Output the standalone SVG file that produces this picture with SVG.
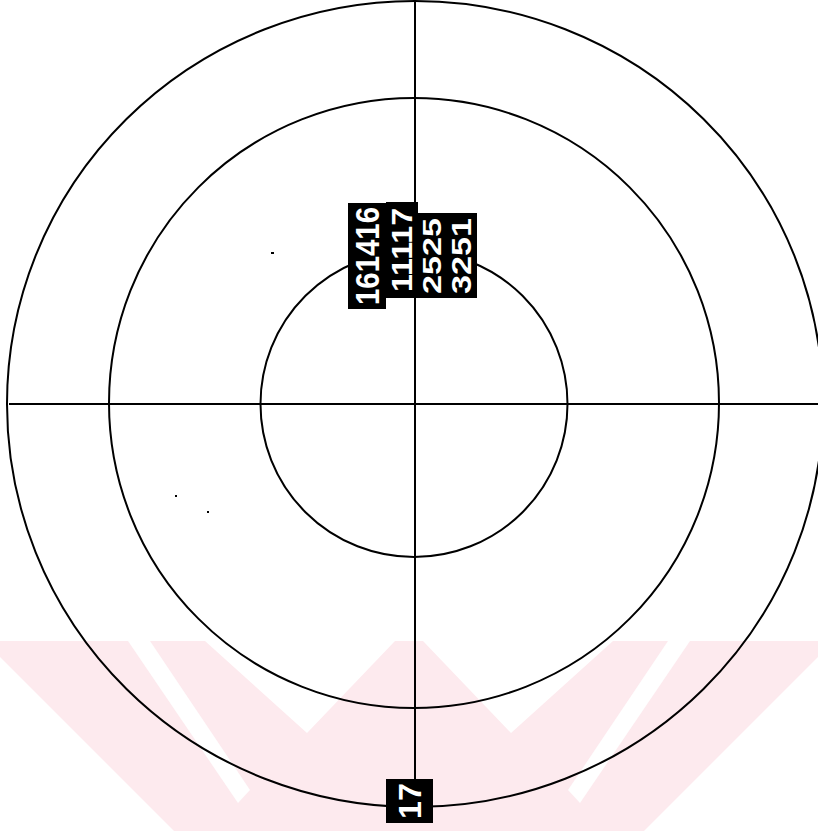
<svg xmlns="http://www.w3.org/2000/svg" width="818" height="831" viewBox="0 0 818 831">
<style>
.ring{fill:none;stroke:#000;stroke-width:2}
.axis{stroke:#000;stroke-width:2}
.box{fill:#000}
.lbl{fill:#fff;font-family:"Liberation Sans",Arial,sans-serif;font-weight:bold;text-anchor:middle;dominant-baseline:central}
.wm{fill:#fdeaee}
.gap{fill:#fff}
</style>
<rect width="818" height="831" fill="#fff"/>
<g id="watermark">
<rect class="wm" x="0" y="641" width="818" height="190"/>
<polygon class="gap" points="0,657 0,831 174,831"/>
<polygon class="gap" points="128,641 150,641 250,790 238,803"/>
<polygon class="gap" points="205,641 395,641 307,733"/>
<polygon class="gap" points="818,657 818,831 644,831"/>
<polygon class="gap" points="690,641 668,641 568,790 580,803"/>
<polygon class="gap" points="613,641 423,641 511,733"/>
</g>
<g id="grid">
<ellipse class="ring" cx="415" cy="404" rx="408" ry="403"/>
<ellipse class="ring" cx="414" cy="403" rx="305" ry="305"/>
<ellipse class="ring" cx="414" cy="404" rx="153.5" ry="153"/>
</g>
<g id="connectors">
<line class="axis" x1="9" y1="404" x2="818" y2="404"/>
<line class="axis" x1="415" y1="0" x2="415" y2="780"/>
</g>
<g id="specks" fill="#000">
<rect x="271" y="252" width="3" height="2"/>
<rect x="175" y="495" width="2" height="2"/>
<rect x="207" y="511" width="2" height="2"/>
</g>
<g id="node-161416">
<rect class="box" x="348" y="203" width="38" height="106"/>
<text class="lbl" font-size="33" textLength="98" lengthAdjust="spacingAndGlyphs" transform="translate(367,256) rotate(-90)">161416</text>
</g>
<g id="node-11117">
<rect class="box" x="386" y="202" width="32" height="96"/>
<text class="lbl" font-size="29" textLength="84" lengthAdjust="spacingAndGlyphs" transform="translate(402,250) rotate(-90)">11117</text>
</g>
<g id="node-2525">
<rect class="box" x="418" y="213" width="28" height="85"/>
<text class="lbl" font-size="25" textLength="76" lengthAdjust="spacingAndGlyphs" transform="translate(432,256) rotate(-90)">2525</text>
</g>
<g id="node-3251">
<rect class="box" x="446" y="213" width="31" height="85"/>
<text class="lbl" font-size="27" textLength="76" lengthAdjust="spacingAndGlyphs" transform="translate(461.5,256) rotate(-90)">3251</text>
</g>
<g id="node-17">
<rect class="box" x="386" y="779" width="47" height="44"/>
<text class="lbl" font-size="32" textLength="36" lengthAdjust="spacingAndGlyphs" transform="translate(409.5,801) rotate(-90)">17</text>
</g>
</svg>
